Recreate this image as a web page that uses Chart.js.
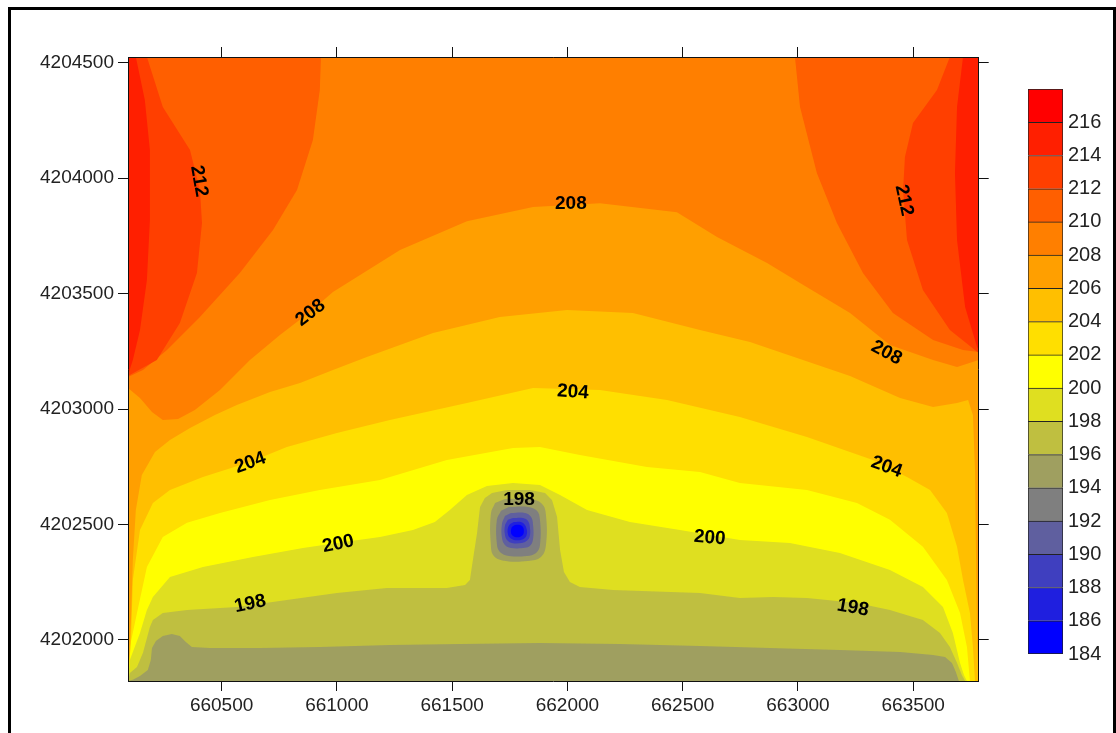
<!DOCTYPE html>
<html>
<head>
<meta charset="utf-8">
<script src="https://cdn.jsdelivr.net/npm/chart.js@4.4.1/dist/chart.umd.min.js"></script>
<style>
html, body { margin: 0; padding: 0; background: #fff; overflow: hidden; }
#frame { position: absolute; left: 8px; top: 7px; width: 1108px; height: 800px; border: 3px solid #000; box-sizing: border-box; }
#map { position: absolute; left: 0; top: 0; }
#bar { position: absolute; left: 1026px; top: 80px; }
</style>
</head>
<body>
<div id="frame"></div>
<canvas id="map" width="1116" height="733"></canvas>
<canvas id="bar" width="86" height="600"></canvas>
<script>
// map extent (easting / northing)
const xMin = 660094, xMax = 663784;
const yMin = 4201822, yMax = 4204525;

const xTicks = [660500, 661000, 661500, 662000, 662500, 663000, 663500];
const yTicks = [4202000, 4202500, 4203000, 4203500, 4204000, 4204500];

// colour scale: lower bound of each 2-unit band
const bandLevels = [184, 186, 188, 190, 192, 194, 196, 198, 200, 202, 204, 206, 208, 210, 212, 214, 216];
const bandColors = ['#0000FF', '#1F1FDF', '#3F3FBF', '#5F5F9F', '#7F7F7F', '#9F9F60', '#BFBF40', '#DFDF20',
                    '#FFFF00', '#FFDF00', '#FFBF00', '#FF9F00', '#FF7F00', '#FF5F00', '#FF3F00', '#FF1F00', '#FF0000'];
const cbTicks = [184, 186, 188, 190, 192, 194, 196, 198, 200, 202, 204, 206, 208, 210, 212, 214, 216];

// contour lines, [easting, northing]
const c196 = [[660094,4201822],[660115,4201827],[660146,4201844],[660180,4201870],[660193,4201913],[660198,4201965],[660215,4201995],[660245,4202017],[660284,4202026],[660319,4202017],[660345,4201991],[660371,4201969],[660449,4201965],[660666,4201965],[660926,4201969],[661230,4201978],[661534,4201982],[661881,4201987],[662228,4201982],[662575,4201974],[662879,4201965],[663182,4201956],[663443,4201948],[663586,4201935],[663638,4201926],[663668,4201900],[663685,4201861],[663698,4201822],[663784,4201822]];
const c198 = [[660094,4201822],[660102,4201857],[660133,4201883],[660159,4201944],[660189,4202056],[660202,4202086],[660245,4202117],[660350,4202130],[660566,4202143],[660783,4202173],[661000,4202203],[661217,4202225],[661477,4202225],[661556,4202238],[661577,4202260],[661590,4202346],[661608,4202463],[661621,4202576],[661642,4202615],[661673,4202636],[661738,4202649],[661837,4202649],[661903,4202636],[661933,4202606],[661955,4202533],[661968,4202390],[661985,4202294],[662011,4202251],[662054,4202229],[662198,4202216],[662575,4202203],[662748,4202182],[662892,4202186],[663039,4202182],[663256,4202160],[663399,4202130],[663542,4202086],[663616,4202030],[663659,4201969],[663690,4201900],[663711,4201848],[663725,4201822],[663784,4201822]];
const c200 = [[660094,4201822],[660102,4201913],[660146,4202030],[660176,4202130],[660202,4202186],[660276,4202273],[660419,4202316],[660636,4202359],[660853,4202398],[661000,4202420],[661187,4202446],[661330,4202476],[661425,4202511],[661490,4202563],[661564,4202628],[661651,4202667],[661764,4202680],[661881,4202671],[661968,4202628],[662085,4202563],[662271,4202511],[662488,4202476],[662748,4202433],[662965,4202420],[663182,4202377],[663399,4202303],[663542,4202229],[663629,4202143],[663672,4202030],[663703,4201900],[663720,4201848],[663733,4201822],[663784,4201822]];
const c202 = [[660094,4201822],[660102,4201969],[660133,4202117],[660176,4202316],[660245,4202446],[660350,4202507],[660493,4202550],[660710,4202606],[660926,4202649],[661187,4202693],[661477,4202779],[661764,4202831],[661881,4202836],[662054,4202801],[662345,4202749],[662575,4202727],[662748,4202680],[663039,4202649],[663256,4202593],[663399,4202520],[663542,4202403],[663646,4202260],[663703,4202117],[663733,4201969],[663746,4201822],[663784,4201822]];
const c204 = [[660094,4201822],[660107,4201999],[660115,4202260],[660146,4202476],[660202,4202593],[660276,4202649],[660419,4202706],[660623,4202771],[660783,4202836],[661000,4202896],[661230,4202953],[661564,4203026],[661851,4203091],[662141,4203083],[662432,4203039],[662748,4202966],[663039,4202879],[663325,4202779],[663473,4202706],[663573,4202649],[663646,4202550],[663690,4202403],[663716,4202260],[663746,4202117],[663759,4201969],[663768,4201822],[663784,4201822]];
const c206 = [[660094,4201822],[660098,4201913],[660107,4202086],[660115,4202346],[660128,4202563],[660154,4202714],[660211,4202814],[660276,4202866],[660363,4202918],[660471,4202974],[660566,4203018],[660710,4203074],[660840,4203113],[660983,4203169],[661130,4203225],[661417,4203329],[661707,4203399],[661998,4203429],[662284,4203416],[662575,4203342],[662792,4203290],[663009,4203217],[663226,4203143],[663443,4203048],[663586,4203009],[663690,4203026],[663738,4203039],[663759,4202974],[663768,4202736],[663772,4202390],[663777,4201999],[663784,4201822]];
const c208 = [[660094,4203091],[660146,4203048],[660198,4202987],[660245,4202953],[660311,4202957],[660384,4202996],[660493,4203083],[660623,4203212],[660753,4203321],[660883,4203420],[660983,4203507],[661274,4203689],[661564,4203814],[661851,4203875],[662141,4203892],[662475,4203853],[662649,4203745],[662866,4203633],[663009,4203546],[663226,4203416],[663399,4203277],[663586,4203212],[663690,4203182],[663784,4203212]];
const c210L = [[660094,4203139],[660159,4203169],[660263,4203256],[660406,4203399],[660579,4203589],[660723,4203776],[660827,4203949],[660896,4204165],[660926,4204382],[660931,4204525]];
const c210R = [[662987,4204525],[663009,4204308],[663082,4204022],[663169,4203806],[663282,4203589],[663412,4203416],[663586,4203299],[663716,4203256],[663784,4203247]];
const c212L = [[660094,4203143],[660219,4203212],[660319,4203373],[660393,4203589],[660415,4203806],[660406,4203949],[660363,4204122],[660245,4204308],[660176,4204525]];
const c212R = [[663659,4204525],[663603,4204382],[663499,4204239],[663464,4204092],[663456,4203949],[663473,4203732],[663542,4203516],[663659,4203342],[663784,4203243]];
const c214L = [[660094,4203147],[660115,4203212],[660146,4203342],[660176,4203559],[660189,4203819],[660189,4204122],[660167,4204339],[660128,4204525]];
const c214R = [[663716,4204525],[663690,4204308],[663681,4204022],[663690,4203732],[663725,4203442],[663777,4203269],[663784,4203256]];

// closed low around the pit
const pit196 = [[661729,4202610],[661837,4202610],[661890,4202589],[661907,4202541],[661907,4202411],[661885,4202359],[661829,4202342],[661733,4202342],[661681,4202364],[661668,4202411],[661668,4202546],[661686,4202593]];
const pit194 = [[661746,4202576],[661829,4202576],[661868,4202559],[661881,4202520],[661881,4202411],[661864,4202377],[661824,4202364],[661746,4202364],[661707,4202381],[661694,4202416],[661694,4202520],[661712,4202559]];
const pit192 = [[661755,4202550],[661816,4202550],[661842,4202533],[661851,4202498],[661851,4202437],[661837,4202407],[661807,4202398],[661755,4202398],[661729,4202411],[661716,4202442],[661716,4202502],[661729,4202537]];
const pit190 = [[661764,4202528],[661807,4202528],[661829,4202515],[661837,4202489],[661837,4202450],[661824,4202429],[661803,4202420],[661759,4202420],[661738,4202433],[661729,4202455],[661729,4202494],[661742,4202520]];
const pit188 = [[661768,4202511],[661798,4202511],[661816,4202498],[661824,4202476],[661824,4202459],[661816,4202442],[661798,4202433],[661768,4202433],[661751,4202442],[661742,4202459],[661742,4202485],[661751,4202502]];
const pit186 = [[661772,4202498],[661794,4202498],[661807,4202489],[661811,4202472],[661807,4202455],[661794,4202446],[661772,4202446],[661759,4202455],[661755,4202472],[661759,4202489]];

// contour labels
const contourLabels = ['212', '212', '208', '208', '208', '204', '204', '204', '200', '200', '198', '198', '198'];
const labelX = [660406, 663464, 662015, 660883, 663386, 662024, 660623, 663386, 661005, 662618, 660623, 663239, 661790];
const labelY = [4203988, 4203905, 4203892, 4203420, 4203247, 4203078, 4202771, 4202753, 4202420, 4202446, 4202160, 4202143, 4202610];
const labelAngle = [80, 78, 0, -38, 28, 4, -20, 20, -12, 5, -12, 10, 0];

const fontFamily = '"Liberation Sans", Arial, sans-serif';

function bandColor(level) {
    return bandColors[bandLevels.indexOf(level)];
}

// region >= level, or <= level for the pit ('pit')
const regions = [
    { level: 196, pts: c196, side: 'top' },
    { level: 198, pts: c198, side: 'top' },
    { level: 200, pts: c200, side: 'top' },
    { level: 202, pts: c202, side: 'top' },
    { level: 204, pts: c204, side: 'top' },
    { level: 206, pts: c206, side: 'top' },
    { level: 208, pts: c208, side: 'top' },
    { level: 210, pts: c210L, side: 'left' },
    { level: 210, pts: c210R, side: 'right' },
    { level: 212, pts: c212L, side: 'left' },
    { level: 212, pts: c212R, side: 'right' },
    { level: 214, pts: c214L, side: 'left' },
    { level: 214, pts: c214R, side: 'right' },
    { level: 196, pts: pit196, side: 'pit' },
    { level: 194, pts: pit194, side: 'pit' },
    { level: 192, pts: pit192, side: 'pit' },
    { level: 190, pts: pit190, side: 'pit' },
    { level: 188, pts: pit188, side: 'pit' },
    { level: 186, pts: pit186, side: 'pit' }
];

function closeRegion(pts, side) {
    const p = pts.map(q => ({ x: q[0], y: q[1] }));
    if (side === 'top') p.push({ x: xMax, y: yMax }, { x: xMin, y: yMax });
    if (side === 'left') p.push({ x: xMin, y: yMax });
    if (side === 'right') p.push({ x: xMax, y: yMax });
    return p;
}

const datasets = regions.map((r, i) => {
    const color = r.side === 'pit' ? bandColor(r.level - 2) : bandColor(r.level);
    return {
        data: closeRegion(r.pts, r.side),
        backgroundColor: color,
        borderColor: 'rgba(0,0,0,0)',
        borderWidth: 0,
        pointRadius: 0,
        fill: 'shape',
        tension: r.side === 'pit' ? 0.4 : 0,
        order: -i
    };
});

// lowest band fills the whole plot
const plotBackground = {
    id: 'plotBackground',
    beforeDatasetsDraw(chart) {
        const a = chart.chartArea;
        const ctx = chart.ctx;
        ctx.save();
        ctx.fillStyle = bandColor(194);
        ctx.fillRect(a.left, a.top, a.right - a.left, a.bottom - a.top);
        ctx.restore();
    }
};

const contourText = {
    id: 'contourText',
    afterDatasetsDraw(chart) {
        const ctx = chart.ctx;
        const x = chart.scales.x, y = chart.scales.y;
        ctx.save();
        ctx.font = 'bold 19px ' + fontFamily;
        ctx.fillStyle = '#000';
        ctx.textAlign = 'center';
        ctx.textBaseline = 'middle';
        for (let i = 0; i < contourLabels.length; i++) {
            ctx.save();
            ctx.translate(x.getPixelForValue(labelX[i]), y.getPixelForValue(labelY[i]));
            ctx.rotate(labelAngle[i] * Math.PI / 180);
            ctx.fillText(contourLabels[i], 0, 1);
            ctx.restore();
        }
        ctx.restore();
    }
};

function axis(axisName, pos, min, max, ticks, showLabels, size) {
    return {
        type: 'linear',
        axis: axisName,
        position: pos,
        min: min,
        max: max,
        afterBuildTicks: s => { s.ticks = ticks.map(v => ({ value: v })); },
        afterFit: s => {
            if (pos === 'top' || pos === 'bottom') s.height = size; else s.width = size;
        },
        grid: { drawOnChartArea: false, drawTicks: true, tickLength: 10, color: '#111', lineWidth: 1 },
        border: { display: true, color: '#111', width: 1, z: 1 },
        ticks: {
            display: showLabels,
            padding: pos === 'left' ? 4 : 3,
            color: '#222',
            font: { family: fontFamily, size: 19 },
            maxRotation: 0,
            autoSkip: false,
            callback: v => String(v)
        }
    };
}

new Chart(document.getElementById('map'), {
    type: 'line',
    data: { datasets: datasets },
    options: {
        responsive: false,
        animation: false,
        devicePixelRatio: 1,
        layout: { padding: 0 },
        plugins: { legend: { display: false }, tooltip: { enabled: false } },
        scales: {
            x: axis('x', 'bottom', xMin, xMax, xTicks, true, 52),
            x2: axis('x', 'top', xMin, xMax, xTicks, false, 57),
            y: axis('y', 'left', yMin, yMax, yTicks, true, 128),
            y2: axis('y', 'right', yMin, yMax, yTicks, false, 137.3)
        }
    },
    plugins: [plotBackground, contourText]
});

// colour bar
new Chart(document.getElementById('bar'), {
    type: 'bar',
    data: {
        labels: [''],
        datasets: bandLevels.map((lv, i) => ({
            data: [[lv, lv + 2]],
            backgroundColor: bandColors[i],
            borderColor: '#222',
            borderWidth: { top: 1, left: 1, right: 1, bottom: i === 0 ? 1 : 0 },
            borderSkipped: false,
            barPercentage: 1,
            categoryPercentage: 1,
            grouped: false
        }))
    },
    options: {
        responsive: false,
        animation: false,
        devicePixelRatio: 1,
        layout: { padding: { left: 2, top: 9, bottom: 26, right: 0 } },
        plugins: { legend: { display: false }, tooltip: { enabled: false } },
        scales: {
            x: { display: false },
            y: {
                position: 'right',
                min: 184,
                max: 218,
                afterBuildTicks: s => { s.ticks = cbTicks.map(v => ({ value: v })); },
                afterFit: s => { s.width = 49; s.paddingTop = 0; s.paddingBottom = 0; },
                grid: { display: false, drawTicks: false },
                border: { display: false },
                ticks: { padding: 5, color: '#222', font: { family: fontFamily, size: 20 } }
            }
        }
    }
});
</script>
</body>
</html>
